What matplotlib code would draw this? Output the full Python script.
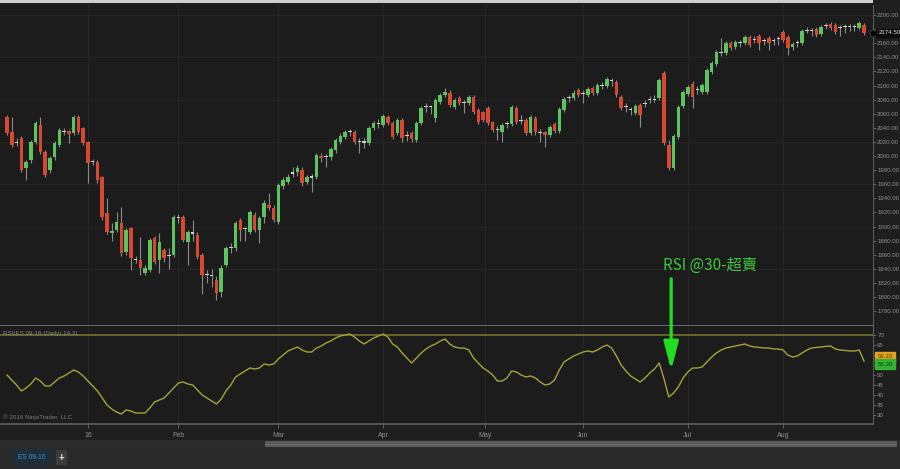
import matplotlib
matplotlib.use('Agg')
import matplotlib.pyplot as plt
from matplotlib.patches import Rectangle, ConnectionPatch, ArrowStyle
import matplotlib.transforms as mtransforms
import numpy as np

plt.rcParams['font.family'] = ['Liberation Sans', 'DejaVu Sans']

# ---------------- data ----------------
opens = [2055,2034,2019,2025,1983,1994,2020,2044,2006,1980,
         1998,2016,2035,2036,2033,2055,2040,2020,1991,1992,
         1970,1919,1891,1895,1905,1864,1898,1853,1853,1834,
         1838,1884,1853,1867,1858,1860,1913,1913,1878,1890,
         1888,1860,1831,1832,1824,1807,1845,1869,1870,1909,
         1897,1893,1917,1895,1914,1931,1927,1906,1957,1963,
         1975,1977,1980,1963,1969,1970,2000,1998,1998,2008,
         2020,2027,2034,2034,2021,2019,2018,2040,2047,2044,
         2055,2047,2033,2051,2028,2033,2023,2047,2069,2070,
         2054,2077,2087,2089,2070,2082,2075,2075,2084,2065,
         2062,2068,2048,2037,2034,2045,2046,2068,2050,2051,
         2033,2054,2034,2034,2030,2045,2035,2065,2082,2083,
         2094,2088,2087,2097,2089,2101,2100,2108,2105,2084,
         2069,2066,2061,2072,2074,2080,2081,2083,2118,2016,
         1983,2027,2071,2088,2102,2094,2091,2091,2119,2131,
         2146,2146,2160,2155,2160,2160,2169,2165,2170,2163,
         2167,2163,2166,2176,2169,2155,2160,2160,2178,2179,
         2180,2173,2184,2187,2186,2181,2183,2184,2183,2182,
         2186]
highs = [2058,2055,2025,2028,1995,2023,2050,2056,2009,2000,
         2021,2040,2040,2037,2058,2058,2041,2022,1996,1995,
         1972,1940,1905,1921,1928,1898,1900,1858,1885,1845,
         1884,1887,1891,1870,1870,1916,1918,1916,1895,1910,
         1892,1863,1838,1840,1830,1845,1873,1876,1908,1912,
         1900,1923,1920,1915,1937,1948,1930,1962,1970,1975,
         1985,1987,1984,1973,1975,2004,2005,2003,2013,2026,
         2032,2037,2038,2037,2025,2025,2043,2050,2052,2060,
         2058,2050,2054,2054,2035,2036,2050,2071,2075,2073,
         2082,2090,2096,2093,2082,2085,2080,2087,2087,2068,
         2064,2071,2050,2042,2047,2050,2072,2071,2058,2054,
         2058,2057,2038,2036,2044,2048,2069,2084,2087,2093,
         2097,2094,2098,2100,2104,2105,2112,2111,2108,2087,
         2075,2070,2074,2075,2080,2085,2086,2111,2120,2023,
         2031,2073,2094,2101,2106,2100,2104,2125,2135,2151,
         2167,2163,2163,2165,2165,2172,2172,2170,2173,2168,
         2170,2168,2170,2179,2172,2162,2165,2180,2183,2182,
         2183,2186,2188,2190,2189,2186,2187,2187,2187,2192,
         2189]
lows = [2030,2013,2014,1977,1966,1990,2017,2003,1970,1976,
        1995,2013,2030,2019,2030,2031,2015,1962,1988,1962,
        1910,1889,1880,1892,1858,1860,1838,1848,1831,1831,
        1835,1847,1834,1850,1840,1857,1905,1878,1846,1880,
        1854,1805,1820,1815,1796,1800,1842,1862,1866,1880,
        1880,1890,1892,1877,1905,1924,1906,1903,1953,1960,
        1970,1972,1958,1960,1949,1967,1992,1985,1995,2005,
        2017,2024,2028,2017,2004,2012,2015,2037,2040,2041,
        2044,2024,2030,2020,2022,2020,2020,2044,2063,2060,
        2048,2074,2084,2069,2067,2072,2061,2072,2059,2045,
        2048,2044,2034,2023,2020,2040,2043,2045,2045,2030,
        2030,2030,2020,2013,2027,2032,2032,2062,2076,2080,
        2084,2075,2084,2087,2086,2095,2097,2100,2084,2065,
        2063,2058,2058,2041,2070,2075,2076,2080,2015,1980,
        1980,2024,2068,2085,2068,2088,2088,2088,2116,2128,
        2142,2143,2150,2152,2155,2157,2154,2160,2150,2158,
        2150,2158,2158,2162,2143,2150,2155,2157,2174,2170,
        2169,2170,2180,2179,2173,2170,2175,2178,2178,2179,
        2172]
closes = [2033,2016,2020,1980,1992,2020,2047,2006,1973,1997,
          2018,2037,2034,2031,2055,2034,2018,1990,1993,1966,
          1914,1892,1894,1906,1862,1895,1855,1852,1841,1841,
          1881,1850,1878,1855,1860,1913,1912,1881,1892,1892,
          1857,1831,1833,1830,1806,1841,1870,1871,1905,1895,
          1896,1920,1895,1912,1934,1927,1909,1959,1966,1970,
          1977,1983,1962,1970,1971,2001,1997,2000,2010,2023,
          2029,2034,2035,2020,2020,2021,2040,2047,2046,2057,
          2047,2027,2051,2025,2030,2024,2047,2068,2070,2069,
          2079,2087,2091,2072,2079,2075,2076,2084,2062,2048,
          2051,2047,2037,2038,2044,2046,2069,2048,2051,2033,
          2055,2034,2033,2030,2041,2035,2066,2081,2083,2090,
          2087,2089,2095,2090,2101,2100,2109,2107,2087,2068,
          2070,2065,2071,2058,2075,2081,2080,2108,2018,1983,
          2028,2070,2091,2098,2084,2095,2101,2122,2132,2148,
          2147,2160,2153,2162,2161,2169,2157,2166,2160,2164,
          2160,2164,2167,2165,2153,2159,2161,2177,2179,2178,
          2172,2183,2185,2182,2176,2182,2184,2183,2184,2189,
          2175]
rsi = [50.0,47.5,45,42,43.5,45.5,48.5,47,44.5,44.5,
       46.5,48.5,49.5,51,52.5,51.5,49.5,47,44.5,42,
       38.5,35,33,31.5,30.5,32.5,32,31,31,31,
       33.5,36.5,37.5,38.5,41,43.5,46,46.5,45.5,45,
       42.5,40,38.5,37,35.5,38,42,45,49,50.5,
       52,53.5,53,53.5,55.5,55,55.5,58,60,62,
       63,64,62.5,61.5,61.5,63.5,64.5,66,67,68.5,
       69.5,70,70.5,69,67,65.5,67,68.5,69.5,70.5,
       69,65.5,64,61,58.5,56,58.5,61,63,64.5,
       65.5,67,68,65.5,64,63.5,63.5,62.5,58.5,56,
       53.5,52,50,47,47,48.5,52,51.5,50,49,
       49.5,48.5,46.5,45,45.5,47.5,52.5,56.5,58,59.5,
       60.5,61.5,62,61.5,62.5,64,65,63.5,59.5,55,
       52,49.5,48,46.5,48.5,51,53,56,48,39,
       41,44,48.5,51.5,53.5,53.5,54,56.5,59,61,
       62.5,63.5,64,64.5,65,65.5,64.5,64,63.8,63.5,
       63.5,63,63,62.5,60,59,59.5,61,62.5,63.5,
       63.8,64,64.3,64.5,63,62.5,62.3,62,62,62.5,
       57]

month_labels = ['16', 'Feb', 'Mar', 'Apr', 'May', 'Jun', 'Jul', 'Aug']
month_bars = [17, 36, 57, 79, 100.5, 121, 143, 163]
price_ticks = list(range(1780, 2201, 20))
price_hidden = [2180]            # label covered by the last-price box
grid_levels = [1840, 1900, 1960, 2020, 2080, 2140, 2200]
rsi_ticks = [30, 35, 40, 45, 50, 55, 60, 65, 70]
rsi_hidden = [55, 60]            # labels covered by the value boxes
last_price = 2174.50
rsi_box_orange = 59.2
rsi_box_green = 55.3
signal_bar = 139.5
signal_rsi = 52.5
signal_price_text = 1845
signal_price_tail = 1826

# ---------------- figure ----------------
W, H = 900, 469
BG = '#1e1e1e'
fig = plt.figure(figsize=(W / 100, H / 100), dpi=100, facecolor=BG)

def fx(px):
    return px / W

def fy(py):
    return 1 - py / H

ax = fig.add_axes([0, fy(326), fx(873), (326 - 5) / H])
ax_r = fig.add_axes([0, fy(424), fx(873), (424 - 326) / H], sharex=ax)

TXT = '#8e8e8e'
GRID = '#262626'
for a in (ax, ax_r):
    a.set_facecolor('#1c1c1c')
    for s in ('top', 'left'):
        a.spines[s].set_visible(False)
    a.spines['right'].set_color('#5a5a5a')
    a.spines['bottom'].set_color('#5e5e5e')
    a.yaxis.tick_right()
    a.tick_params(axis='y', colors='#6a6a6a', labelcolor=TXT, labelsize=4.4,
                  length=2, width=0.6, pad=1)

o = np.array(opens, float)
h = np.array(highs, float)
l = np.array(lows, float)
c = np.array(closes, float)
x = np.arange(len(c))

doji = np.abs(c - o) <= 2
colors = np.where(doji, '#d0d0d0', np.where(c > o, '#5cc45e', '#d8472f'))
bottoms = np.minimum(o, c)
heights = np.maximum(np.abs(c - o), 1.3)

for gl in grid_levels:
    ax.axhline(gl, color=GRID, lw=0.8, zorder=0)
for mb in month_bars:
    ax.axvline(mb, color=GRID, lw=0.8, zorder=0)
    ax_r.axvline(mb, color=GRID, lw=0.8, zorder=0)

ax.vlines(x, l, h, color='#8a8a8a', lw=0.8, zorder=2)
ax.bar(x, heights, bottom=bottoms, width=0.74, color=colors, lw=0, zorder=3)

ax.set_xlim(-7 / 4.761, (873 - 7) / 4.761)
ax.set_ylim(2200 - (326 - 15) * 1.418, 2200 + 10 * 1.418)
ax.set_yticks(price_ticks)
ax.set_yticklabels(['' if p in price_hidden else f'{p:.2f}' for p in price_ticks])
ax.tick_params(axis='x', bottom=False, labelbottom=False)
ax.spines['bottom'].set_linewidth(1.4)
ax.spines['bottom'].set_color('#6e6e6e')

# current price marker
ax.plot([x[-1] + 1.9], [last_price], 'o', ms=5, mfc='#050505', mec='#444444',
        mew=0.6, zorder=6, clip_on=False)
trans_p = mtransforms.blended_transform_factory(ax.transAxes, ax.transData)
ax.text(1.006, last_price, f'{last_price:.2f}', transform=trans_p, fontsize=4.4,
        color='#e0e0e0', va='center', ha='left', zorder=7,
        bbox=dict(boxstyle='square,pad=0.3', fc='#0c0c0c', ec='#0c0c0c'))

# ---------------- RSI panel ----------------
ax_r.plot(x, rsi, color='#a4a43a', lw=1.0, zorder=3)
ax_r.axhline(70, color='#66662c', lw=1.4, zorder=2)
ax_r.set_ylim(25.5, 74.5)
ax_r.set_yticks(rsi_ticks)
ax_r.set_yticklabels(['' if v in rsi_hidden else str(v) for v in rsi_ticks])
ax_r.set_xticks(month_bars)
ax_r.set_xticklabels(month_labels)
ax_r.tick_params(axis='x', colors='#6a6a6a', labelcolor=TXT, labelsize=5,
                 length=3, width=0.6, pad=3)
ax_r.spines['bottom'].set_linewidth(1.2)

trans_r = mtransforms.blended_transform_factory(ax_r.transAxes, ax_r.transData)
ax_r.text(1.005, rsi_box_orange, f'{rsi_box_orange:.2f}', transform=trans_r,
          fontsize=4.4, color='#5a3c00', va='center', ha='left', zorder=7,
          bbox=dict(boxstyle='square,pad=0.4', fc='#e3a322', ec='#e3a322'))
ax_r.text(1.005, rsi_box_green, f'{rsi_box_green:.2f}', transform=trans_r,
          fontsize=4.4, color='#0d3d0d', va='center', ha='left', zorder=7,
          bbox=dict(boxstyle='square,pad=0.4', fc='#33b233', ec='#33b233'))

ax_r.text(0.003, 0.95, 'RSI(ES 09-16 (Daily),14,3)', transform=ax_r.transAxes,
          fontsize=4.5, color='#8a8a8a', va='top', ha='left')
ax_r.text(0.003, 0.04, '\u00a9 2016 NinjaTrader, LLC', transform=ax_r.transAxes,
          fontsize=4.5, color='#7a7a7a', va='bottom', ha='left')

# ---------------- annotation ----------------
ax.text(signal_bar - 1.8, signal_price_text, 'RSI @30-超賣', fontsize=11,
        color='#3cc83c', va='center', ha='left', zorder=8,
        family=['Noto Sans CJK TC', 'DejaVu Sans'])
arrow = ConnectionPatch(
    xyA=(signal_bar, signal_price_tail), coordsA=ax.transData,
    xyB=(signal_bar, signal_rsi), coordsB=ax_r.transData,
    arrowstyle=ArrowStyle('-|>', head_length=1.7, head_width=0.45),
    mutation_scale=10, color='#22dd22', lw=2.3, zorder=9)
fig.add_artist(arrow)

# ---------------- window chrome ----------------
def rect(x0, y0, x1, y1, color, z=0):
    fig.add_artist(Rectangle((fx(x0), fy(y1)), fx(x1) - fx(x0), (y1 - y0) / H,
                             transform=fig.transFigure, fc=color, ec='none',
                             zorder=z))

rect(0, 0, 873, 3, '#cfcfcf', 10)
rect(0, 440, 900, 448, '#2c2c2c', 1)
rect(265, 441, 897, 447, '#5b5b5b', 2)
rect(265, 443.5, 897, 444.5, '#6c6c6c', 3)
rect(0, 448, 900, 469, '#2a2a2a', 1)
rect(12, 449, 52, 466, '#1f2e3a', 2)
rect(56, 450, 67, 465, '#3c3c3c', 2)
fig.text(fx(32), fy(457.5), 'ES 09-16', fontsize=4.8, color='#3d8fd6',
         ha='center', va='center', zorder=5)
fig.text(fx(61.5), fy(457.5), '+', fontsize=7, color='#e0e0e0',
         ha='center', va='center', zorder=5, fontweight='bold')

fig.savefig('out.png', dpi=100, facecolor=BG)
